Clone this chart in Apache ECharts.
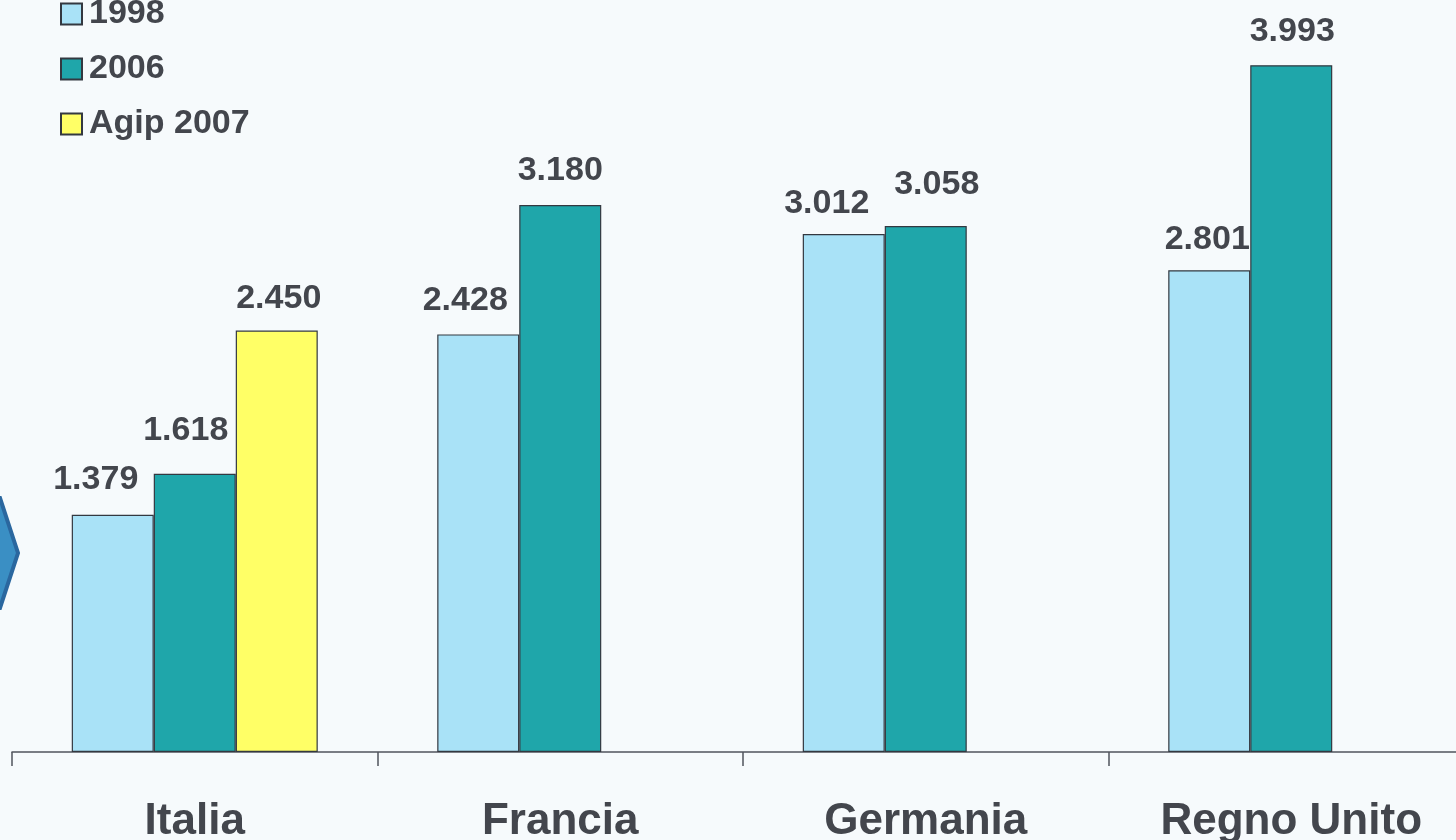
<!DOCTYPE html>
<html>
<head>
<meta charset="utf-8">
<script src="https://cdn.jsdelivr.net/npm/echarts@6/dist/echarts.min.js"></script>
<style>
html,body{margin:0;padding:0;background:#F6FAFC;}
#c{width:1456px;height:840px;}
</style>
</head>
<body>
<div id="c"></div>
<script>
var categories = ['Italia', 'Francia', 'Germania', 'Regno Unito'];
var seriesNames = ['1998', '2006', 'Agip 2007'];
var values1998 = [1379, 2428, 3012, 2801];
var values2006 = [1618, 3180, 3058, 3993];
var valuesAgip2007 = [2450, null, null, null];

var colors = ['#A9E2F7', '#1FA6AA', '#FFFF66'];
var textColor = '#43464D';

// label nudges (styling only), per series per category: [dx, dy]
var labelNudges = [
  [[-17, -1], [-13, 0], [-17, 4], [-2, 3]],
  [[-9, -9], [0, 0], [11, -7], [1, 0]],
  [[2, 2], [0, 0], [0, 0], [0, 0]]
];

function fmt(v) {
  var s = String(Math.round(v));
  return s.replace(/\B(?=(\d{3})+(?!\d))/g, '.');
}

function makeSeries(idx, data) {
  return {
    name: seriesNames[idx],
    type: 'bar',
    data: data.map(function (v, i) {
      return { value: v, label: { offset: labelNudges[idx][i] } };
    }),
    barWidth: 82,
    barGap: '0%',
    itemStyle: { color: colors[idx], borderColor: '#333840', borderWidth: 1.2 },
    label: {
      show: true,
      position: 'top',
      distance: 17,
      fontFamily: 'Liberation Sans, Arial, sans-serif',
      fontWeight: 'bold',
      fontSize: 34,
      color: textColor,
      formatter: function (p) { return fmt(p.value); }
    }
  };
}

var chart = echarts.init(document.getElementById('c'), null, { renderer: 'canvas' });
chart.setOption({
  backgroundColor: '#F6FAFC',
  animation: false,
  legend: {
    orient: 'vertical',
    left: 55,
    top: -8,
    itemWidth: 21,
    itemHeight: 21,
    itemGap: 21,
    icon: 'rect',
    textStyle: {
      fontFamily: 'Liberation Sans, Arial, sans-serif',
      fontWeight: 'bold',
      fontSize: 34,
      lineHeight: 34,
      color: textColor,
      padding: [0, 0, 0, 2]
    },
    data: seriesNames
  },
  grid: { left: 12, right: -18, top: 64, bottom: 88, containLabel: false, outerBoundsMode: 'none' },
  xAxis: {
    type: 'category',
    data: categories,
    axisLine: { show: true, lineStyle: { color: '#50545C', width: 1.5 } },
    axisTick: { show: true, length: 14, lineStyle: { color: '#50545C', width: 1.5 } },
    axisLabel: {
      margin: 48,
      fontFamily: 'Liberation Sans, Arial, sans-serif',
      fontWeight: 'bold',
      fontSize: 44,
      color: textColor
    }
  },
  yAxis: {
    type: 'value',
    min: 0,
    max: 4000,
    show: false,
    splitLine: { show: false }
  },
  graphic: [{
    type: 'polygon',
    shape: { points: [[-10, 498], [0, 498], [18, 553], [0, 608], [-10, 608]] },
    style: { fill: '#3A8FC4', stroke: '#2A679F', lineWidth: 4 }
  }],
  series: [
    makeSeries(0, values1998),
    makeSeries(1, values2006),
    makeSeries(2, valuesAgip2007)
  ]
});
</script>
</body>
</html>
